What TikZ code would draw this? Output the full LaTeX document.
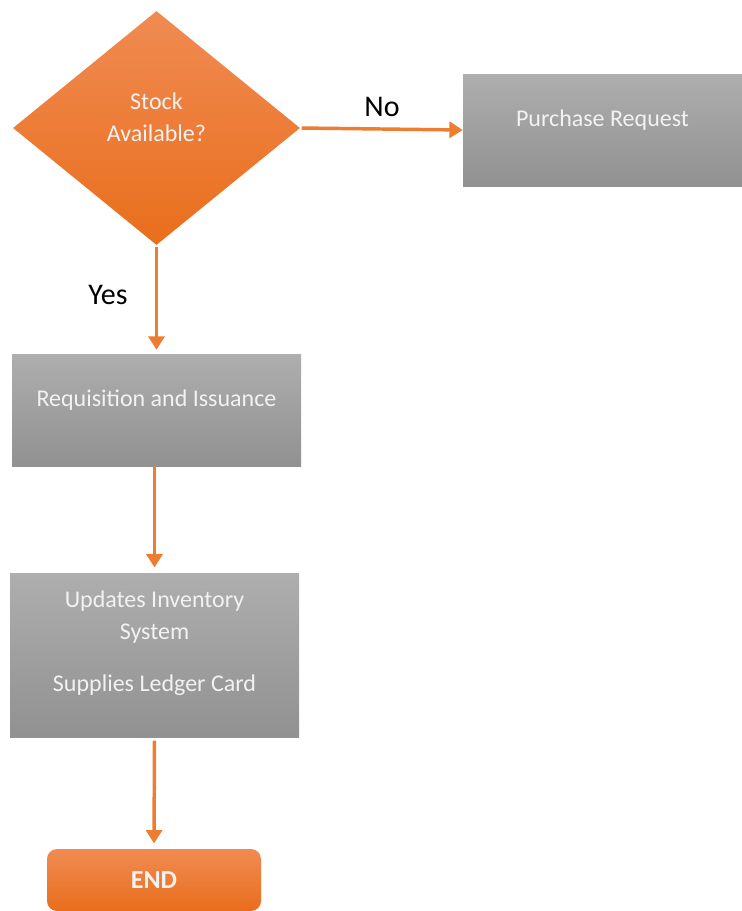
\documentclass[tikz,border=0pt]{standalone}
\usepackage{fontspec}
\setmainfont{Carlito}
\usetikzlibrary{shapes.geometric,arrows.meta}
\definecolor{orTop}{HTML}{F08B52}
\definecolor{orBot}{HTML}{E96E1C}
\definecolor{grTop}{HTML}{AEAEAE}
\definecolor{grBot}{HTML}{919191}
\definecolor{arr}{HTML}{ED7D31}
\definecolor{boxtxt}{HTML}{F2F2F2}
\tikzset{
  boxtext/.style={text=boxtxt, font=\fontsize{18}{24}\selectfont, align=center},
  graybox/.style={rectangle, draw=none, shading=axis, top color=grTop, bottom color=grBot, inner sep=0pt},
  decision/.style={diamond, draw=none, shading=axis, top color=orTop, bottom color=orBot, inner sep=0pt},
  endbox/.style={rectangle, rounded corners=7.5pt, draw=none, shading=axis, top color=orTop, bottom color=orBot, inner sep=0pt},
  flow/.style={draw=arr, line width=2.6pt, -{Triangle[length=10pt,width=12pt]}},
  lbl/.style={text=black, font=\fontsize{22.5}{24}\selectfont}
}
\begin{document}
\begin{tikzpicture}[x=0.75pt,y=-0.75pt]
\useasboundingbox (0,0) rectangle (742,911);
\node[decision, minimum width=287*0.75pt, minimum height=234*0.75pt,
  label={[boxtext, yshift=8pt]center:Stock\\Available?}] (dec) at (156.5,128) {};
\node[graybox, minimum width=279*0.75pt, minimum height=112*0.75pt,
  label={[boxtext, yshift=7.5pt]center:Purchase Request}] (pr) at (602.5,130) {};
\node[graybox, minimum width=289*0.75pt, minimum height=112*0.75pt,
  label={[boxtext, yshift=7.5pt]center:Requisition and Issuance}] (req) at (156.5,410) {};
\node[graybox, minimum width=289*0.75pt, minimum height=164*0.75pt,
  label={[boxtext, yshift=8.5pt]center:Updates Inventory\\System\\[15pt]Supplies Ledger Card}] (upd) at (154.5,655) {};
\node[endbox, minimum width=214*0.75pt, minimum height=62*0.75pt,
  label={[boxtext, font=\fontsize{19.5}{24}\selectfont\bfseries]center:END}] (end) at (154,880) {};
\draw[flow, shorten <=1pt] (dec.east) -- (pr.west);
\draw[flow, shorten <=1.5pt, shorten >=3pt] (dec.south) -- (req.north);
\draw[flow, shorten >=4pt] (upd.north |- req.south) -- (upd.north);
\draw[flow, shorten <=2.5pt, shorten >=4pt] (upd.south) -- (end.north);
\node[lbl] (no) at (382,107) {No};
\node[lbl] (yes) at (108,295) {Yes};
\end{tikzpicture}
\end{document}
